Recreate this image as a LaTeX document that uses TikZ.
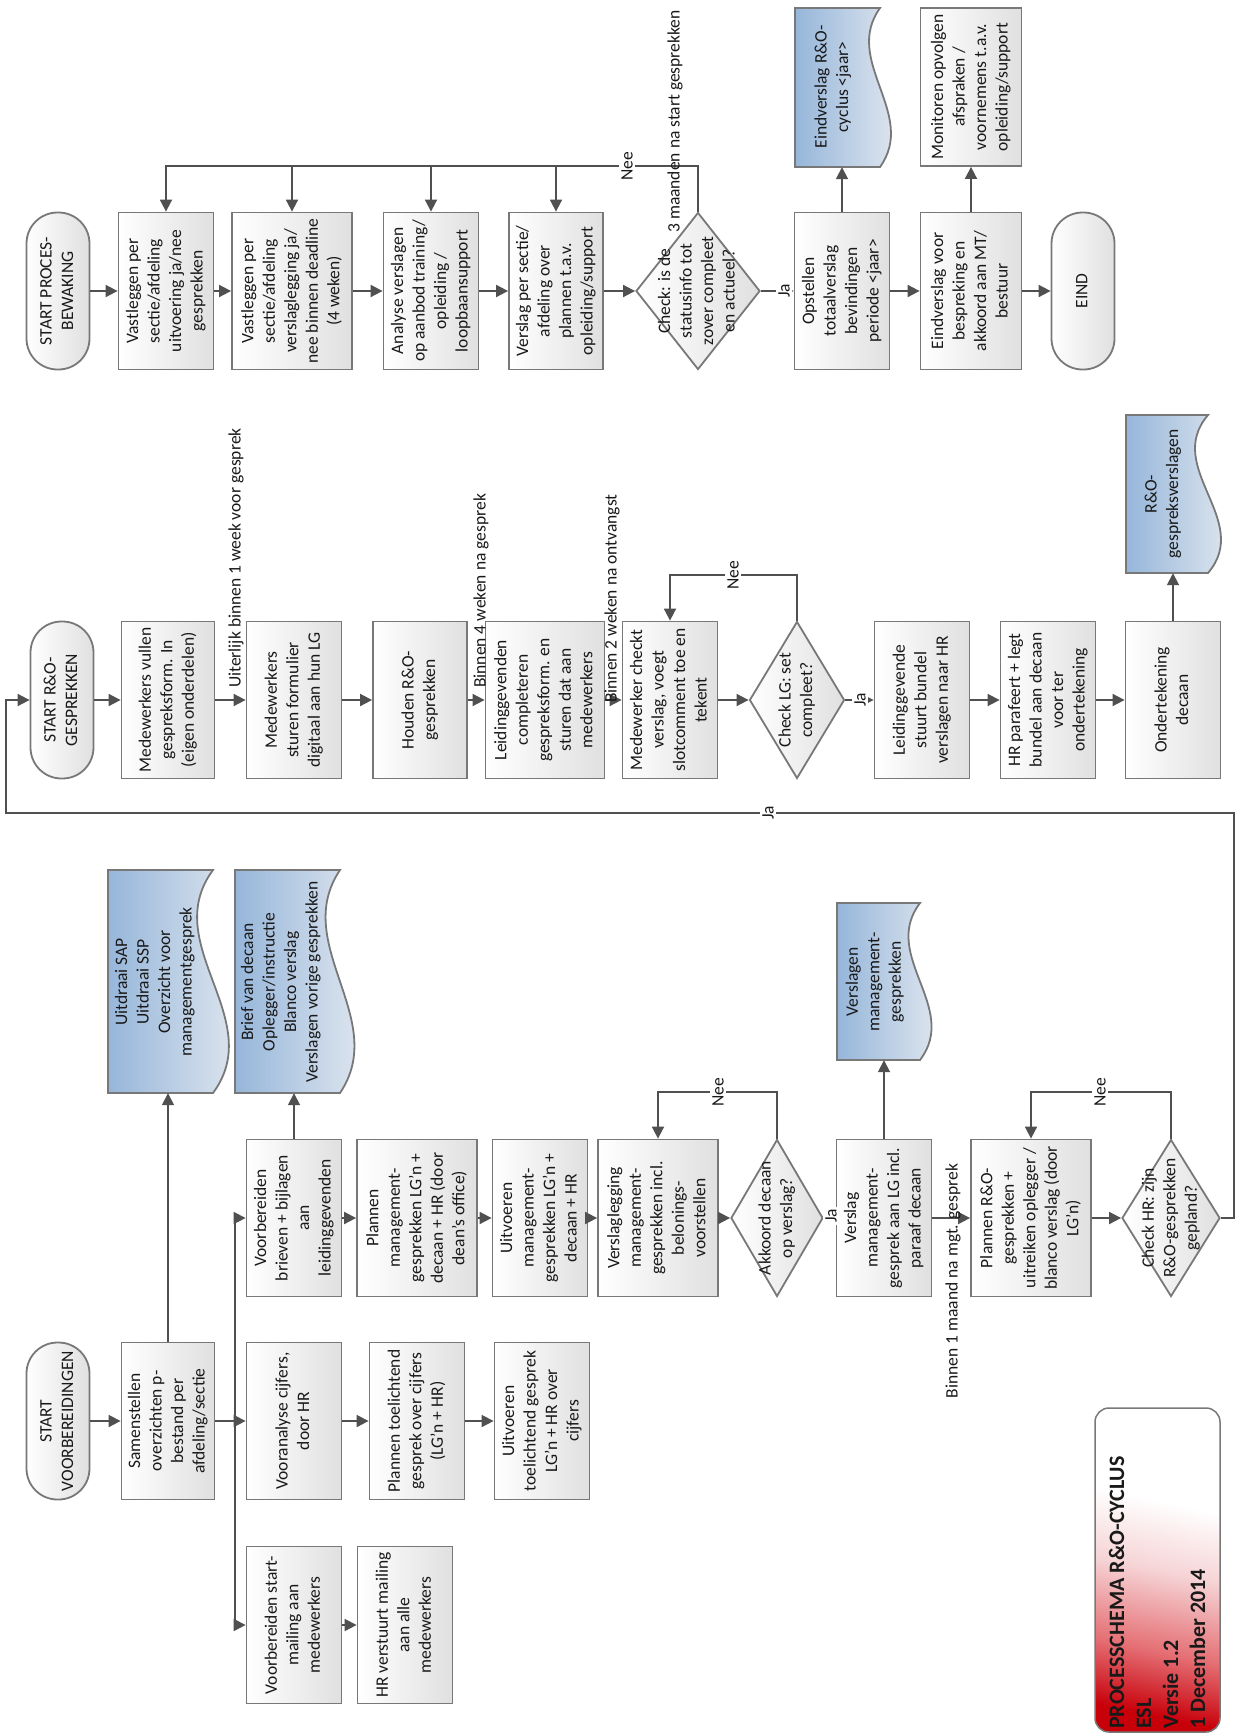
\documentclass[tikz,border=0pt]{standalone}
\usepackage{fontspec}
\setmainfont{Carlito}
\usepackage{graphicx}
\usetikzlibrary{shapes.geometric,arrows.meta}
\definecolor{bord}{RGB}{120,120,120}
\definecolor{conn}{RGB}{80,80,80}
\definecolor{txt}{RGB}{25,25,25}
\definecolor{docblue}{RGB}{150,182,218}
\definecolor{docgray}{RGB}{238,240,243}
\definecolor{boxgray}{RGB}{224,224,224}
\definecolor{titlered}{RGB}{200,0,10}
\definecolor{titlemid}{RGB}{228,110,115}
\definecolor{titlepink}{RGB}{246,212,214}
\pgfdeclareverticalshading{titleshade}{100bp}{color(0bp)=(titlered); color(25bp)=(titlered); color(36bp)=(titlemid); color(50bp)=(titlepink); color(62bp)=(white); color(100bp)=(white)}
\newcommand\rt[1]{\rotatebox{90}{\begin{tabular}{@{}c@{}}#1\end{tabular}}}
\newcommand\rtl[1]{\rotatebox{90}{\begin{tabular}{@{}l@{}}#1\end{tabular}}}
\newcommand\mydoc[5]{%
  \pgfmathsetmacro\myya{#2+(#4-#2)/3}%
  \pgfmathsetmacro\myyb{#2+2*(#4-#2)/3}%
  \pgfmathsetmacro\myxa{#3-#5}%
  \pgfmathsetmacro\myxb{#3+#5}%
  \path[docfill] (#1,#2) -- (#3,#2) .. controls (\myxa,\myya) and (\myxb,\myyb) .. (#3,#4) -- (#1,#4) -- cycle;}
\begin{document}
\begin{tikzpicture}[x=1pt,y=-1pt,
  base/.style={font=\fontsize{17.5}{21.5}\selectfont, text=txt, inner sep=0pt},
  pbox/.style={base, draw=bord, line width=1.8pt, left color=white, right color=boxgray, minimum height=157},
  term/.style={pbox, rounded corners=31pt, minimum width=63},
  dia/.style={base, diamond, draw=bord, line width=1.8pt, left color=white, right color=boxgray, minimum height=157},
  lbl/.style={base, fill=white, inner sep=2pt},
  arr/.style={draw=conn, line width=1.8pt, -{Triangle[length=12pt,width=12pt]}},
  ln/.style={draw=conn, line width=1.8pt},
  docfill/.style={draw=bord, line width=1.8pt, left color=docblue, right color=docgray},
]
\useasboundingbox (0,0) rectangle (1237,1735);

% ---------------- Band 1: procesbewaking
\node[term] (startPB) at (58,291) {\rt{START PROCES-\\BEWAKING}};
\node[pbox, minimum width=95] (A1) at (166,291) {\rt{Vastleggen per\\sectie/afdeling\\uitvoering ja/nee\\gesprekken}};
\node[pbox, minimum width=120] (A2) at (292,291) {\rt{Vastleggen per\\sectie/afdeling\\verslaglegging ja/\\nee binnen deadline\\(4 weken)}};
\node[pbox, minimum width=95] (A3) at (431,291) {\rt{Analyse verslagen\\op aanbod training/\\opleiding /\\loopbaansupport}};
\node[pbox, minimum width=94] (A4) at (556,291) {\rt{Verslag per sectie/\\afdeling over\\plannen t.a.v.\\opleiding/support}};
\node[dia, minimum width=124] (dA) at (698,291) {};
\node[base] (dAt) at (698,291) {\rt{Check: is de\\statusinfo tot\\zover compleet\\en actueel?}};
\node[pbox, minimum width=95] (A5) at (842,291) {\rt{Opstellen\\totaalverslag\\bevindingen\\periode <jaar>}};
\node[pbox, minimum width=101] (A6) at (971,291) {\rt{Eindverslag voor\\bespreking en\\akkoord aan MT/\\bestuur}};
\node[term] (endA) at (1083,291) {\rt{EIND}};
\mydoc{795}{8}{880}{167}{38}
\node[base, minimum width=85, minimum height=159] (docA) at (837.5,87.5) {};
\node[base] (docAt) at (833,87) {\rt{Eindverslag R\&O-\\cyclus <jaar>}};
\node[pbox, minimum width=101, minimum height=158] (monA) at (971,87) {\rt{Monitoren opvolgen\\afspraken /\\voornemens t.a.v.\\opleiding/support}};

\draw[arr] (startPB) -- (A1);
\draw[arr] (A1) -- (A2);
\draw[arr] (A2) -- (A3);
\draw[arr] (A3) -- (A4);
\draw[arr] (A4) -- (dA);
\draw[arr] (dA) -- (A5);
\draw[arr] (A5) -- (A6);
\draw[arr] (A6) -- (endA);
\draw[arr] (A5.north) -- (A5.north |- docA.south);
\draw[arr] (A6.north) -- (monA.south);
\coordinate (loopA) at (166,166);
\draw[arr] (dA.north) |- (loopA) -- (A1.north);
\draw[arr] (A2.north |- loopA) -- (A2.north);
\draw[arr] (A3.north |- loopA) -- (A3.north);
\draw[arr] (A4.north |- loopA) -- (A4.north);
\node[lbl] (nee1) at (627,166) {\rotatebox{90}{Nee}};
\node[lbl] (ja1) at (784,291) {\rotatebox{90}{Ja}};
\node[base, anchor=south] (l4) at (675,233) {\rotatebox{90}{3 maanden na start gesprekken}};

% ---------------- Band 2: R&O-gesprekken
\node[term] (startRO) at (62,700) {\rt{START R\&O-\\GESPREKKEN}};
\node[pbox, minimum width=93] (B1) at (168,700) {\rt{Medewerkers vullen\\gespreksform. In\\(eigen onderdelen)}};
\node[pbox, minimum width=95] (B2) at (294,700) {\rt{Medewerkers\\sturen formulier\\digitaal aan hun LG}};
\node[pbox, minimum width=94] (B3) at (420,700) {\rt{Houden R\&O-\\gesprekken}};
\node[pbox, minimum width=119] (B4) at (545,700) {\rt{Leidinggevenden\\completeren\\gespreksform. en\\sturen dat aan\\medewerkers}};
\node[pbox, minimum width=95] (B5) at (670,700) {\rt{Medewerker checkt\\verslag, voegt\\slotcomment toe en\\tekent}};
\node[dia, minimum width=95] (dB) at (797,700) {};
\node[base] (dBt) at (797,700) {\rt{Check LG: set\\compleet?}};
\node[pbox, minimum width=95] (B6) at (922,700) {\rt{Leidinggevende\\stuurt bundel\\verslagen naar HR}};
\node[pbox, minimum width=95] (B7) at (1048,700) {\rt{HR parafeert + legt\\bundel aan decaan\\voor ter\\ondertekening}};
\node[pbox, minimum width=95] (B8) at (1173,700) {\rt{Ondertekening\\decaan}};
\mydoc{1126}{415}{1208}{573}{45}
\node[base, minimum width=82, minimum height=158] (docB) at (1167,494) {};
\node[base] (docBt) at (1163,494) {\rt{R\&O-\\gespreksverslagen}};

\draw[arr] (startRO) -- (B1);
\draw[arr] (B1) -- (B2);
\draw[arr] (B2) -- (B3);
\draw[arr] (B3) -- (B4);
\draw[arr] (B4) -- (B5);
\draw[arr] (B5) -- (dB);
\draw[arr] (dB) -- (B6);
\draw[arr] (B6) -- (B7);
\draw[arr] (B7) -- (B8);
\draw[arr] (B8.north) -- (B8.north |- docB.south);
\coordinate (loopB) at (797,575);
\draw[arr] (dB.north) -- (loopB) -| (B5.north);
\node[lbl] (nee2) at (733,575) {\rotatebox{90}{Nee}};
\node[lbl] (ja2) at (860,700) {\rotatebox{90}{Ja}};
\node[base, anchor=south] (l1) at (236,688) {\rotatebox{90}{Uiterlijk binnen 1 week voor gesprek}};
\node[base, anchor=south] (l2) at (481,688) {\rotatebox{90}{Binnen 4 weken na gesprek}};
\node[base, anchor=south] (l3) at (612,703) {\rotatebox{90}{Binnen 2 weken na ontvangst}};

% ---------------- Band 3: voorbereidingen
\node[term] (startV) at (58,1421) {\rt{START\\VOORBEREIDINGEN}};
\node[pbox, minimum width=93] (C1) at (168,1421) {\rt{Samenstellen\\overzichten p-\\bestand per\\afdeling/sectie}};
\mydoc{108}{870}{213}{1093}{55}
\node[base, minimum width=105, minimum height=223] (doc1) at (160.5,981.5) {};
\node[base] (doc1t) at (155,982) {\rt{Uitdraai SAP\\Uitdraai SSP\\Overzicht voor\\managementgesprek}};
\mydoc{235}{870}{340}{1093}{50}
\node[base, minimum width=105, minimum height=223] (doc2) at (287.5,981.5) {};
\node[base] (doc2t) at (281,982) {\rt{Brief van decaan\\Oplegger/instructie\\Blanco verslag\\Verslagen vorige gesprekken}};

\node[pbox, minimum width=95] (D1) at (294,1218) {\rt{Voorbereiden\\brieven + bijlagen\\aan\\leidinggevenden}};
\node[pbox, minimum width=120] (D2) at (417,1218) {\rt{Plannen\\management-\\gesprekken LG’n +\\decaan + HR (door\\dean’s office)}};
\node[pbox, minimum width=95] (D3) at (540,1218) {\rt{Uitvoeren\\management-\\gesprekken LG’n +\\decaan + HR}};
\node[pbox, minimum width=120] (D4) at (658,1218) {\rt{Verslaglegging\\management-\\gesprekken incl.\\belonings-\\voorstellen}};
\node[dia, minimum width=92] (dD) at (777,1218) {};
\node[base] (dDt) at (777,1218) {\rt{Akkoord decaan\\op verslag?}};
\node[pbox, minimum width=95] (D5) at (884,1218) {\rt{Verslag\\management-\\gesprek aan LG incl.\\paraaf decaan}};
\mydoc{837}{903}{920}{1060}{40}
\node[base, minimum width=83, minimum height=157] (doc3) at (878.5,981.5) {};
\node[base] (doc3t) at (875,982) {\rt{Verslagen\\management-\\gesprekken}};
\node[pbox, minimum width=120] (D6) at (1031,1218) {\rt{Plannen R\&O-\\gesprekken +\\uitreiken oplegger /\\blanco verslag (door\\LG’n)}};
\node[dia, minimum width=98] (dE) at (1171,1218) {};
\node[base] (dEt) at (1171,1218) {\rt{Check HR: zijn\\R\&O-gesprekken\\gepland?}};

\node[pbox, minimum width=95] (E1) at (294,1421) {\rt{Vooranalyse cijfers,\\door HR}};
\node[pbox, minimum width=95] (E2) at (417,1421) {\rt{Plannen toelichtend\\gesprek over cijfers\\(LG’n + HR)}};
\node[pbox, minimum width=95] (E3) at (542,1421) {\rt{Uitvoeren\\toelichtend gesprek\\LG’n + HR over\\cijfers}};
\node[pbox, minimum width=95] (F1) at (294,1625) {\rt{Voorbereiden start-\\mailing aan\\medewerkers}};
\node[pbox, minimum width=95] (F2) at (405,1625) {\rt{HR verstuurt mailing\\aan alle\\medewerkers}};

\draw[arr] (startV) -- (C1);
\coordinate (jT) at (235,1218);
\coordinate (jB) at (235,1625);
\draw[ln] (jT) -- (jB);
\draw[arr] (C1) -- (E1);
\draw[arr] (jT) -- (D1);
\draw[arr] (jB) -- (F1);
\draw[arr] (C1.north) -- (C1.north |- doc1.south);
\draw[arr] (D1.north) -- (D1.north |- doc2.south);
\draw[arr] (D1) -- (D2);
\draw[arr] (D2) -- (D3);
\draw[arr] (D3) -- (D4);
\draw[arr] (D4) -- (dD);
\draw[arr] (dD) -- (D5);
\draw[arr] (D5) -- (D6);
\draw[arr] (D6) -- (dE);
\draw[arr] (D5.north) -- (D5.north |- doc3.south);
\coordinate (loopD) at (777,1092);
\draw[arr] (dD.north) -- (loopD) -| (D4.north);
\coordinate (loopE) at (1171,1092);
\draw[arr] (dE.north) -- (loopE) -| (D6.north);
\draw[arr] (E1) -- (E2);
\draw[arr] (E2) -- (E3);
\draw[arr] (F1) -- (F2);
\coordinate (jaR) at (1234,813);
\coordinate (jaL) at (6,813);
\draw[arr] (dE.east) -| (jaR) -- (jaL) |- (startRO.west);

\node[lbl] (nee3) at (718,1092) {\rotatebox{90}{Nee}};
\node[lbl] (nee4) at (1100,1092) {\rotatebox{90}{Nee}};
\node[lbl] (ja3) at (831,1216) {\rotatebox{90}{Ja}};
\node[lbl] (ja4) at (768,813) {\rotatebox{90}{Ja}};
\node[base] (l5) at (953,1281) {\rotatebox{90}{Binnen 1 maand na mgt. gesprek}};

% ---------------- Title
\node[draw=bord, line width=1.5pt, rounded corners=14pt, minimum width=125, minimum height=324, inner sep=0, shading=titleshade, shading angle=-12] (title) at (1157.5,1570) {};
\node[font=\bfseries\fontsize{22}{27}\selectfont, text=txt, anchor=south west, inner sep=0] (titlet) at (1105,1729) {\rtl{PROCESSCHEMA R\&O-CYCLUS\\ESL\\Versie 1.2\\1 December 2014}};
\end{tikzpicture}
\end{document}
